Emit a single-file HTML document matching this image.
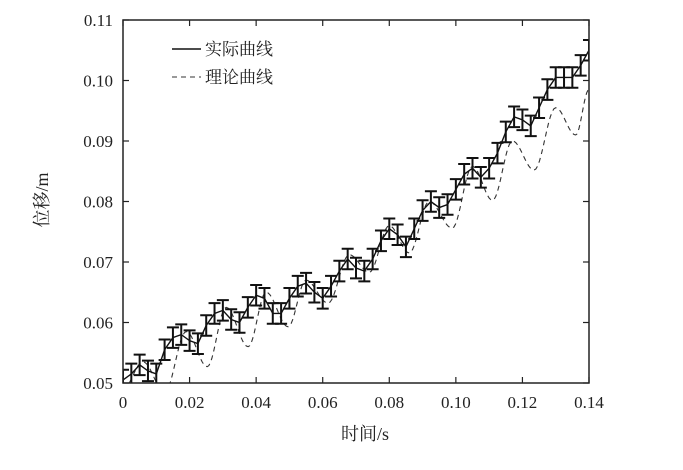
<!DOCTYPE html>
<html><head><meta charset="utf-8"><style>
body{margin:0;background:#fff}
svg text{font-family:"Liberation Serif","Noto Serif CJK SC",serif;fill:#222}
</style></head><body>
<svg width="683" height="465" viewBox="0 0 683 465">
<g id="plot"></g>
</svg>
<script>
const xStep = 0.0025;
const actualY = [0.0505,0.0515,0.053,0.052,0.0515,0.0555,0.0575,0.058,0.057,0.0565,0.0595,0.0615,0.062,0.0605,0.060,0.0625,0.0645,0.064,0.0615,0.0615,0.064,0.066,0.0665,0.065,0.064,0.066,0.0685,0.0705,0.069,0.0685,0.0705,0.0735,0.0755,0.0745,0.0725,0.0755,0.0785,0.080,0.079,0.0795,0.082,0.0845,0.0855,0.084,0.0855,0.088,0.0915,0.094,0.0935,0.0925,0.0955,0.0985,0.1005,0.1005,0.1005,0.1025,0.105];
const errHalf = 0.0017;
const theoryX = [0,0.006,0.0125,0.019,0.0253,0.031,0.0376,0.043,0.0496,0.055,0.0616,0.068,0.074,0.080,0.086,0.092,0.0989,0.105,0.111,0.117,0.1235,0.130,0.136,0.14];
const theoryY = [0.049,0.0535,0.0485,0.0585,0.0527,0.0625,0.056,0.065,0.0593,0.067,0.0632,0.0712,0.0683,0.076,0.0715,0.080,0.0756,0.0858,0.0802,0.090,0.0852,0.0955,0.091,0.0985];
const xTicks = [0,0.02,0.04,0.06,0.08,0.10,0.12,0.14];
const xTickLabels = ["0","0.02","0.04","0.06","0.08","0.10","0.12","0.14"];
const yTicks = [0.05,0.06,0.07,0.08,0.09,0.10,0.11];
const yTickLabels = ["0.05","0.06","0.07","0.08","0.09","0.10","0.11"];

const L=123,R=589,T=20,B=383;
const sx=v=>L+(v-0)/(0.14)*(R-L);
const sy=v=>B-(v-0.05)/(0.06)*(B-T);
const NS="http://www.w3.org/2000/svg";
const g=document.getElementById('plot');
function mk(tag,attrs,parent){const e=document.createElementNS(NS,tag);for(const k in attrs)e.setAttribute(k,attrs[k]);(parent||g).appendChild(e);return e;}

const defs=mk('defs',{});
const cp=mk('clipPath',{id:'clip'},defs);
mk('rect',{x:L,y:T,width:R-L,height:B-T},cp);

let d='';
for(let i=0;i<theoryX.length-1;i++){
  const x0=theoryX[i],x1=theoryX[i+1],y0=theoryY[i],y1=theoryY[i+1];
  for(let k=0;k<=12;k++){
    const t=k/12, x=x0+(x1-x0)*t, y=y0+(y1-y0)*(1-Math.cos(Math.PI*t))/2;
    d+=(d?'L':'M')+sx(x).toFixed(2)+','+sy(y).toFixed(2);
  }
}
const th=mk('path',{d:d,fill:'none',stroke:'#333','stroke-width':1.1,'stroke-dasharray':'5,4','clip-path':'url(#clip)'});



let d2='';
actualY.forEach((v,i)=>{d2+=(i?'L':'M')+sx(i*xStep).toFixed(2)+','+sy(v).toFixed(2);});
const ac=mk('path',{d:d2,fill:'none',stroke:'#111','stroke-width':1.4,'clip-path':'url(#clip)'});



actualY.forEach((v,i)=>{
  const x=sx(i*xStep),y0=sy(v-errHalf),y1=sy(v+errHalf);
  const eb=mk('path',{d:`M${x},${y0}L${x},${y1}M${x-6},${y0}L${x+6},${y0}M${x-6},${y1}L${x+6},${y1}`,stroke:'#111','stroke-width':2,fill:'none','clip-path':'url(#clip)'});
  
  
});

const box=mk('rect',{x:L,y:T,width:R-L,height:B-T,fill:'none',stroke:'#222','stroke-width':1.5});



xTicks.forEach((v,i)=>{
  const x=sx(v);
  mk('line',{x1:x,y1:B,x2:x,y2:B-6,stroke:'#222','stroke-width':1.2});
  mk('line',{x1:x,y1:T,x2:x,y2:T+6,stroke:'#222','stroke-width':1.2});
  const t=mk('text',{x:x,y:B+25,'text-anchor':'middle','font-size':17});
  t.textContent=xTickLabels[i];
  
  
});
yTicks.forEach((v,i)=>{
  const y=sy(v);
  mk('line',{x1:L,y1:y,x2:L+6,y2:y,stroke:'#222','stroke-width':1.2});
  mk('line',{x1:R,y1:y,x2:R-6,y2:y,stroke:'#222','stroke-width':1.2});
  const t=mk('text',{x:L-10,y:y+6,'text-anchor':'end','font-size':17});
  t.textContent=yTickLabels[i];
  
  
});
</script>
<svg width="683" height="465" style="position:absolute;left:0;top:0">
<text x="365" y="440" text-anchor="middle" font-size="18">时间/s</text>
<text transform="translate(48,200) rotate(-90)" text-anchor="middle" font-size="18">位移/m</text>
<g>
<line x1="172" y1="49" x2="201" y2="49" stroke="#111" stroke-width="1.4"/>
<text x="205" y="55" font-size="17">实际曲线</text>
<line x1="172" y1="77" x2="201" y2="77" stroke="#333" stroke-width="1.1" stroke-dasharray="5,4"/>
<text x="205" y="83" font-size="17">理论曲线</text>
</g>
</svg>
</body></html>
